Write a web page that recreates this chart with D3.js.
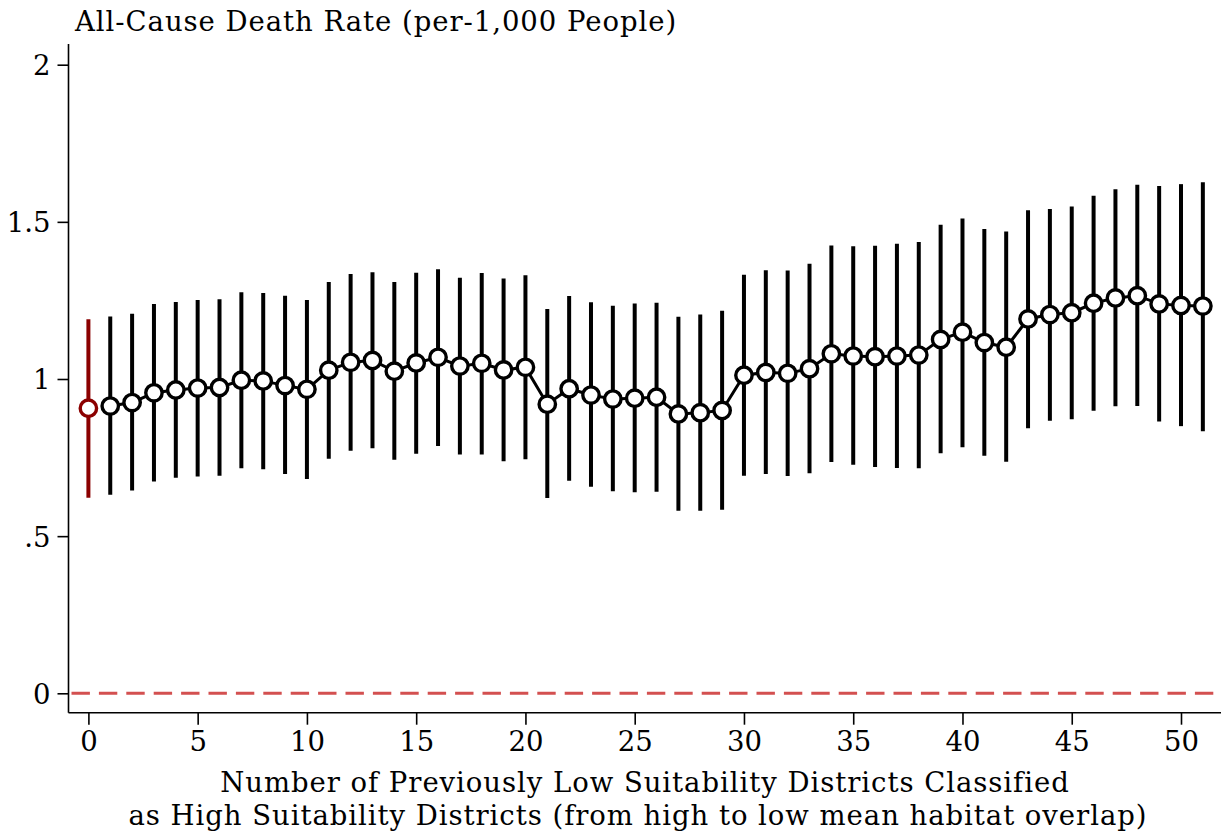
<!DOCTYPE html>
<html>
<head>
<meta charset="utf-8">
<script src="https://cdn.jsdelivr.net/npm/d3@7"></script>
<style>
  html, body { margin: 0; padding: 0; background: #fff; }
  svg { display: block; }
  text { font-family: "DejaVu Serif", "Liberation Serif", serif; fill: #000; }
</style>
</head>
<body>
<svg id="chart" width="1221" height="838"></svg>
<script>
// Number of reclassified districts (x) and estimated death rate with 95% CI
const steps = d3.range(0, 52);
const estimate = [
  0.907, 0.914, 0.925, 0.956, 0.965, 0.971, 0.973, 0.996, 0.994, 0.979,
  0.967, 1.028, 1.053, 1.059, 1.025, 1.051, 1.069, 1.041, 1.050, 1.029,
  1.037, 0.920, 0.969, 0.949, 0.936, 0.939, 0.942, 0.889, 0.893, 0.900,
  1.012, 1.021, 1.018, 1.033, 1.080, 1.073, 1.071, 1.073, 1.076, 1.126,
  1.149, 1.116, 1.101, 1.191, 1.205, 1.211, 1.241, 1.258, 1.265, 1.239,
  1.234, 1.232
];
const ciUpper = [
  1.190, 1.199, 1.208, 1.239, 1.245, 1.251, 1.254, 1.276, 1.274, 1.265,
  1.251, 1.309, 1.334, 1.340, 1.309, 1.338, 1.349, 1.322, 1.337, 1.320,
  1.330, 1.223, 1.264, 1.244, 1.233, 1.240, 1.243, 1.198, 1.205, 1.217,
  1.332, 1.346, 1.345, 1.367, 1.425, 1.422, 1.424, 1.430, 1.436, 1.491,
  1.511, 1.477, 1.469, 1.537, 1.541, 1.549, 1.583, 1.604, 1.618, 1.614,
  1.620, 1.626
];
const ciLower = [
  0.622, 0.632, 0.645, 0.674, 0.686, 0.690, 0.692, 0.716, 0.713, 0.698,
  0.682, 0.746, 0.772, 0.780, 0.743, 0.762, 0.787, 0.760, 0.760, 0.738,
  0.745, 0.621, 0.676, 0.657, 0.643, 0.640, 0.641, 0.581, 0.581, 0.584,
  0.692, 0.698, 0.691, 0.700, 0.736, 0.727, 0.720, 0.717, 0.716, 0.764,
  0.783, 0.756, 0.737, 0.843, 0.867, 0.872, 0.899, 0.913, 0.914, 0.865,
  0.850, 0.834
];
const xTicks = [0, 5, 10, 15, 20, 25, 30, 35, 40, 45, 50];
const yTicks = [0, 0.5, 1, 1.5, 2];
const yTickLabels = ["0", ".5", "1", "1.5", "2"];

const rows = steps.map((s, i) => ({ s, est: estimate[i], lo: ciLower[i], hi: ciUpper[i] }));
const baseline = rows[0];
const shifted = rows.slice(1);

const svg = d3.select("#chart");

const x = d3.scaleLinear().domain([0, 50]).range([88.4, 1181]);
const y = d3.scaleLinear().domain([0, 2]).range([693.3, 64.7]);

const axisLeftX = 68.5;
const axisBottomY = 712.7;
const fontSize = 27.5;
const titleSpacing = "0.95px";

// Reference line at zero
svg.append("line")
  .attr("x1", axisLeftX + 3).attr("x2", 1221)
  .attr("y1", y(0)).attr("y2", y(0))
  .attr("stroke", "#d35050")
  .attr("stroke-width", 3)
  .attr("stroke-dasharray", "18.4,9");

// Axes
const yAxis = d3.axisLeft(y)
  .tickValues(yTicks)
  .tickFormat((d, i) => yTickLabels[i])
  .tickSize(11)
  .tickPadding(7);
const gy = svg.append("g").attr("transform", `translate(${axisLeftX},0)`).call(yAxis);
gy.select(".domain").attr("d", `M0,44V${axisBottomY}`).attr("stroke", "#000").attr("stroke-width", 1.6);
gy.selectAll(".tick line").attr("stroke", "#000").attr("stroke-width", 1.6);
gy.selectAll(".tick text").attr("font-size", fontSize).attr("font-family", null).attr("dy", "0.36em");

const xAxis = d3.axisBottom(x)
  .tickValues(xTicks)
  .tickSize(12)
  .tickPadding(7);
const gx = svg.append("g").attr("transform", `translate(0,${axisBottomY})`).call(xAxis);
gx.select(".domain").attr("d", `M${axisLeftX},0H1221`).attr("stroke", "#000").attr("stroke-width", 1.6);
gx.selectAll(".tick line").attr("stroke", "#000").attr("stroke-width", 1.6);
gx.selectAll(".tick text").attr("font-size", fontSize).attr("font-family", null);

// Confidence intervals
svg.append("g").selectAll("line")
  .data(shifted)
  .join("line")
  .attr("x1", d => x(d.s)).attr("x2", d => x(d.s))
  .attr("y1", d => y(d.lo)).attr("y2", d => y(d.hi))
  .attr("stroke", "#000")
  .attr("stroke-width", 4);

svg.append("line")
  .attr("x1", x(baseline.s)).attr("x2", x(baseline.s))
  .attr("y1", y(baseline.lo)).attr("y2", y(baseline.hi))
  .attr("stroke", "#8b0000")
  .attr("stroke-width", 4);

// Connecting line through the reclassified estimates
svg.append("path")
  .datum(shifted)
  .attr("fill", "none")
  .attr("stroke", "#000")
  .attr("stroke-width", 3)
  .attr("d", d3.line().x(d => x(d.s)).y(d => y(d.est)));

// Point markers
svg.append("g").selectAll("circle")
  .data(shifted)
  .join("circle")
  .attr("cx", d => x(d.s)).attr("cy", d => y(d.est))
  .attr("r", 8.2)
  .attr("fill", "#fff")
  .attr("stroke", "#000")
  .attr("stroke-width", 3.4);

svg.append("circle")
  .attr("cx", x(baseline.s)).attr("cy", y(baseline.est))
  .attr("r", 8.2)
  .attr("fill", "#fff")
  .attr("stroke", "#8b0000")
  .attr("stroke-width", 3.4);

// Titles
svg.append("text")
  .attr("x", 75).attr("y", 31)
  .attr("font-size", fontSize)
  .attr("letter-spacing", titleSpacing)
  .text("All-Cause Death Rate (per-1,000 People)");

svg.append("text")
  .attr("x", 645).attr("y", 792)
  .attr("text-anchor", "middle")
  .attr("font-size", fontSize)
  .attr("letter-spacing", titleSpacing)
  .text("Number of Previously Low Suitability Districts Classified");

svg.append("text")
  .attr("x", 638).attr("y", 825)
  .attr("text-anchor", "middle")
  .attr("font-size", fontSize)
  .attr("letter-spacing", titleSpacing)
  .text("as High Suitability Districts (from high to low mean habitat overlap)");
</script>
</body>
</html>
